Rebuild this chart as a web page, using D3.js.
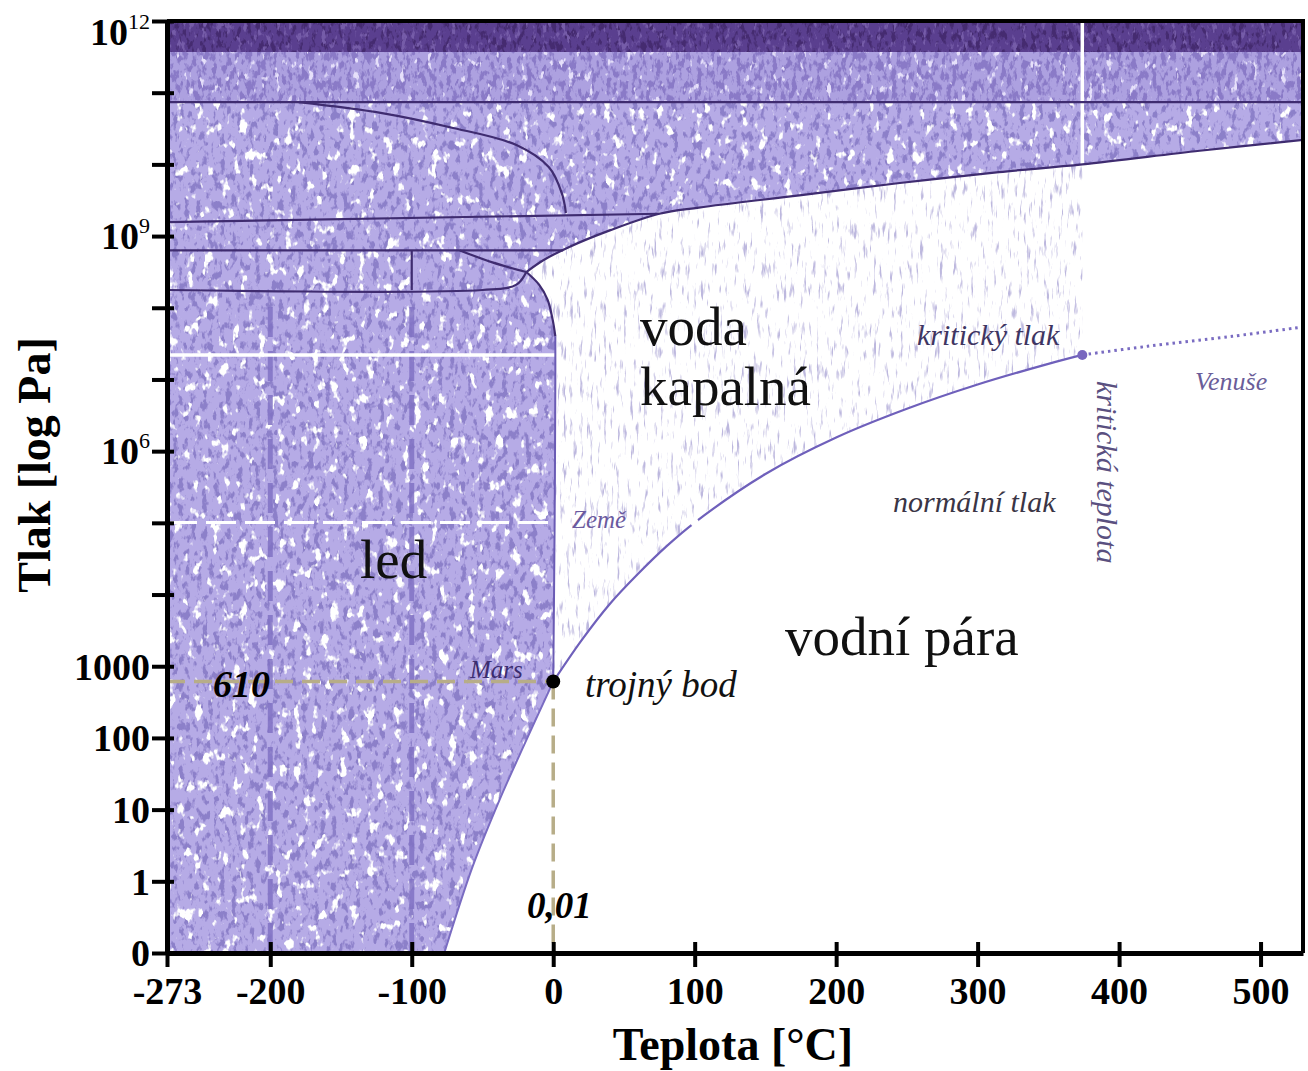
<!DOCTYPE html>
<html>
<head>
<meta charset="utf-8">
<script src="https://cdn.jsdelivr.net/npm/d3@7"></script>
<style>
body { margin: 0; background: #fff; }
svg text { font-family: "Liberation Serif", "Times New Roman", serif; }
</style>
</head>
<body>
<div class="chart"></div>
<script>
var margin = { top: 21, right: 5, bottom: 118, left: 167 };
var width = 1308 - margin.left - margin.right;
var height = 1071 - margin.top - margin.bottom;

// axis ticks
var xTicks = [-273, -200, -100, 0, 100, 200, 300, 400, 500];
var yTicks = [0.1, 1, 10, 100, 1000, 1e4, 1e5, 1e6, 1e7, 1e8, 1e9, 1e10, 1e11, 1e12];
var yLabels = ['0', '1', '10', '100', '1000', '', '', '10^6', '', '', '10^9', '', '', '10^12'];

// phase boundaries (T in °C, P in Pa)
var sublT = [-77, -57, -38, -19, 0.01];
var sublP = [0.1, 1.6, 13.6, 93, 611];
var vapT = [0.01, 20, 40, 60, 80, 100, 150, 200, 250, 300, 350, 374];
var vapP = [611, 2300, 7400, 19500, 47000, 101000, 480000, 1.55e6, 3.9e6, 8.5e6, 1.65e7, 2.2e7];
var meltT = [0.01, 1, 1.5, 1.5, -0.5, -4, -10, -19];
var meltP = [611, 1e5, 1e7, 4e7, 7e7, 1.3e8, 2.1e8, 3.15e8];
var topT = [-19, -7, 11, 40, 75, 103, 174, 245, 315, 374, 457, 530];
var topP = [3.15e8, 4.6e8, 7e8, 1.2e9, 2.05e9, 2.5e9, 3.7e9, 5.5e9, 7.8e9, 1.0e10, 1.55e10, 2.2e10];
var venusT = [374, 420, 480, 530];
var venusP = [2.2e7, 2.9e7, 4.0e7, 5.4e7];

// lines between the ice phases
var iceLines = [
	{ T: [-273, 75], P: [1.57e9, 2.05e9] },
	{ T: [-180, -121, -73, -26, -3, 6, 9], P: [7.4e10, 5.2e10, 3.3e10, 1.86e10, 9.1e9, 4.0e9, 2.1e9] },
	{ T: [-273, 7], P: [6.3e8, 6.3e8] },
	{ T: [-66, -43, -19], P: [6.3e8, 4.3e8, 3.15e8] },
	{ T: [-273, -50, -26, -19], P: [1.77e8, 1.77e8, 2.1e8, 3.15e8] },
	{ T: [-100, -100], P: [1.77e8, 6.3e8] },
	{ T: [-273, 530], P: [7.4e10, 7.4e10] }
];
var bandP = [7.4e10, 3.7e11, 1e12];

var triple = { T: 0.01, P: 611 };
var critical = { T: 374, P: 2.2e7 };
var earthP = 101325;
var gridT = [-200, -100];

var x = d3.scaleLinear().domain([-273, 530]).range([0, width]);
var y = d3.scaleLog().domain([0.1, 1e12]).range([height, 0]);

var root = d3.select('.chart')
	.append('svg')
		.attr('width', width + margin.left + margin.right)
		.attr('height', height + margin.top + margin.bottom);
var svg = root.append('g')
		.attr('transform', `translate(${margin.left}, ${margin.top})`);

var defs = root.append('defs');

function noise(id, freq, seed, oct, rgb, ch, a, b) {
	var row = [0, 0, 0, 0];
	row[ch] = a;
	var f = defs.append('filter').attr('id', id)
		.attr('x', 0).attr('y', 0).attr('width', 1).attr('height', 1)
		.attr('color-interpolation-filters', 'sRGB');
	f.append('feTurbulence').attr('type', 'fractalNoise')
		.attr('baseFrequency', freq).attr('numOctaves', oct).attr('seed', seed);
	f.append('feColorMatrix').attr('type', 'matrix')
		.attr('values', `0 0 0 0 ${rgb[0]} 0 0 0 0 ${rgb[1]} 0 0 0 0 ${rgb[2]} ${row.join(' ')} ${b}`);
}
noise('iceDark', '0.17 0.1', 4, 3, [0.55, 0.5, 0.79], 0, 7, -3.7);
noise('iceWhite', '0.11 0.07', 9, 3, [1, 1, 1], 1, -10, 3.8);
noise('bandDark', '0.2 0.1', 2, 3, [0.54, 0.48, 0.78], 0, 7, -3.35);
noise('bandWhite', '0.15 0.08', 5, 3, [0.9, 0.88, 0.98], 1, -10, 3.4);
noise('xDark', '0.2 0.1', 7, 3, [0.27, 0.17, 0.44], 0, 7, -3.6);
noise('xLight', '0.2 0.1', 8, 3, [0.46, 0.36, 0.66], 1, -8, 3.3);
noise('liqSpeck', '0.3 0.05', 11, 3, [0.74, 0.72, 0.87], 0, 5, -3.0);

var smooth = d3.line().curve(d3.curveCatmullRom.alpha(0.5));
function pts(T, P) { return T.map((t, i) => [x(t), y(P[i])]); }
function cont(T, P) { return smooth(pts(T, P)).replace(/^M/, 'L'); }
function rev(a) { return a.slice().reverse(); }

var icePath = `M${x(-273)},${y(0.1)}` + cont(sublT, sublP) + cont(meltT, meltP) + cont(topT, topP)
	+ `L${x(530)},${y(bandP[0])}L${x(-273)},${y(bandP[0])}Z`;
var liqPath = smooth(pts(meltT, meltP)) + cont(topT.slice(0, 10), topP.slice(0, 10))
	+ `L${x(critical.T)},${y(critical.P)}` + cont(rev(vapT), rev(vapP)) + 'Z';
var bandPath = `M0,${y(bandP[0])}H${width}V${y(bandP[1])}H0Z`;
var xPath = `M0,${y(bandP[1])}H${width}V${y(bandP[2])}H0Z`;

function region(id, d, base, layers) {
	defs.append('clipPath').attr('id', id).append('path').attr('d', d);
	if (base) svg.append('path').attr('d', d).attr('fill', base);
	layers.forEach(function(f) {
		svg.append('rect').attr('width', width).attr('height', height)
			.attr('filter', `url(#${f})`).attr('clip-path', `url(#${id})`);
	});
}
region('cLiq', liqPath, null, ['liqSpeck']);
region('cIce', icePath, '#b6abe6', ['iceDark', 'iceWhite']);
region('cBand', bandPath, '#ada1e0', ['bandDark', 'bandWhite']);
region('cX', xPath, '#5a3f8f', ['xDark', 'xLight']);

// dashed grid inside the ice
svg.selectAll('.grid')
	.data(gridT)
	.enter()
	.append('line')
		.attr('x1', d => x(d)).attr('x2', d => x(d))
		.attr('y1', y(0.1)).attr('y2', y(1.1e8))
		.attr('stroke', '#8172c4').attr('stroke-width', 5)
		.attr('stroke-dasharray', '30,14').attr('opacity', 0.85);

// white marks
svg.append('line')
	.attr('x1', x(critical.T)).attr('x2', x(critical.T))
	.attr('y1', 0).attr('y2', y(topP[9]))
	.attr('stroke', '#fff').attr('stroke-width', 3.5);
svg.append('line')
	.attr('x1', 0).attr('x2', x(1.5))
	.attr('y1', y(critical.P)).attr('y2', y(critical.P))
	.attr('stroke', '#fff').attr('stroke-width', 3.5);
svg.append('line')
	.attr('x1', 0).attr('x2', x(1))
	.attr('y1', y(earthP)).attr('y2', y(earthP))
	.attr('stroke', '#fff').attr('stroke-width', 3)
	.attr('stroke-dasharray', '30,9');

// ice phase lines
svg.selectAll('.iceline')
	.data(iceLines)
	.enter()
	.append('path')
		.attr('d', d => smooth(pts(d.T, d.P)))
		.attr('fill', 'none').attr('stroke', '#3f2c70').attr('stroke-width', 2.2);
svg.append('path')
	.attr('d', smooth(pts(meltT.slice(3), meltP.slice(3))) + cont(topT, topP))
	.attr('fill', 'none').attr('stroke', '#3f2c70').attr('stroke-width', 2.2);
svg.append('path')
	.attr('d', smooth(pts(meltT.slice(0, 4), meltP.slice(0, 4))))
	.attr('fill', 'none').attr('stroke', '#6a5bb4').attr('stroke-width', 2);

// sublimation and boiling curves
svg.append('path')
	.attr('d', smooth(pts(sublT, sublP)))
	.attr('fill', 'none').attr('stroke', '#7a6cc2').attr('stroke-width', 2);
svg.append('path')
	.attr('d', smooth(pts(vapT, vapP)))
	.attr('fill', 'none').attr('stroke', '#6f60bb').attr('stroke-width', 2.2);
svg.append('circle')
	.attr('cx', x(100)).attr('cy', y(earthP)).attr('r', 4).attr('fill', '#fff');
svg.append('path')
	.attr('d', smooth(pts(venusT, venusP)))
	.attr('fill', 'none').attr('stroke', '#7a6cc2').attr('stroke-width', 3)
	.attr('stroke-dasharray', '2.5,4');

// triple point guides
svg.append('line')
	.attr('x1', 0).attr('x2', x(triple.T))
	.attr('y1', y(triple.P)).attr('y2', y(triple.P))
	.attr('stroke', '#b7ad88').attr('stroke-width', 3.5).attr('stroke-dasharray', '18,9');
svg.append('line')
	.attr('x1', x(triple.T)).attr('x2', x(triple.T))
	.attr('y1', y(triple.P)).attr('y2', y(0.1))
	.attr('stroke', '#b7ad88').attr('stroke-width', 3.5).attr('stroke-dasharray', '18,9');
svg.append('circle')
	.attr('cx', x(triple.T)).attr('cy', y(triple.P)).attr('r', 7).attr('fill', '#000');
svg.append('circle')
	.attr('cx', x(critical.T)).attr('cy', y(critical.P)).attr('r', 5).attr('fill', '#7866bf');

// frame
svg.append('path')
	.attr('d', `M0,0H${width}V${height}`)
	.attr('fill', 'none').attr('stroke', '#000').attr('stroke-width', 4);

// axes
var xAxis = d3.axisBottom(x)
	.tickValues(xTicks)
	.tickSize(14)
	.tickSizeOuter(0)
	.tickPadding(10)
	.tickFormat(d => String(d));
var gx = svg.append('g')
	.attr('transform', `translate(0, ${height})`)
	.call(xAxis);
gx.select('.domain').attr('stroke-width', 5);
gx.selectAll('.tick line').attr('y1', -11).attr('stroke-width', 4);
gx.selectAll('.tick text')
	.attr('font-size', 38).attr('font-weight', 'bold').attr('fill', '#000')
	.style('font-family', '"Liberation Serif", serif');

var yAxis = d3.axisLeft(y)
	.tickValues(yTicks)
	.tickSize(15)
	.tickSizeOuter(0)
	.tickFormat('');
var gy = svg.append('g').call(yAxis);
gy.select('.domain').attr('stroke-width', 5);
gy.selectAll('.tick line').attr('x1', 7).attr('stroke-width', 4);

yTicks.forEach(function(v, i) {
	var lab = yLabels[i];
	if (!lab) return;
	var t = svg.append('text')
		.attr('x', -17).attr('y', y(v) + (v === 1e12 ? 11 : 0))
		.attr('dy', '0.35em').attr('text-anchor', 'end')
		.attr('font-size', 38).attr('font-weight', 'bold');
	if (lab.indexOf('^') > 0) {
		var p = lab.split('^');
		t.append('tspan').text(p[0]);
		t.append('tspan').attr('font-size', 22).attr('font-weight', 'normal')
			.attr('dy', -16).text(p[1]);
	} else {
		t.text(lab);
	}
});

// axis titles
root.append('text')
	.attr('transform', 'translate(50, 465) rotate(-90)')
	.attr('text-anchor', 'middle').attr('font-size', 46).attr('font-weight', 'bold')
	.text('Tlak [log Pa]');
root.append('text')
	.attr('x', 733).attr('y', 1060)
	.attr('text-anchor', 'middle').attr('font-size', 46).attr('font-weight', 'bold')
	.text('Teplota [°C]');

// region names and notes
var notes = [
	['voda', 640, 345, 55, 'normal', 'normal', '#111'],
	['kapalná', 640, 405, 55, 'normal', 'normal', '#111'],
	['led', 360, 578, 55, 'normal', 'normal', '#111'],
	['vodní pára', 785, 655, 55, 'normal', 'normal', '#111'],
	['trojný bod', 585, 697, 37, 'italic', 'normal', '#111'],
	['Mars', 470, 678, 25, 'italic', 'normal', '#3b2d70'],
	['610', 213, 697, 38, 'italic', 'bold', '#000'],
	['0,01', 527, 918, 37, 'italic', 'bold', '#000'],
	['Země', 572, 528, 25, 'italic', 'normal', '#6a5aa0'],
	['kritický tlak', 917, 345, 30, 'italic', 'normal', '#3e3562'],
	['normální tlak', 893, 512, 30, 'italic', 'normal', '#3a3545'],
	['Venuše', 1195, 390, 26, 'italic', 'normal', '#6a5d99']
];
root.selectAll('.note')
	.data(notes)
	.enter()
	.append('text')
		.attr('x', d => d[1]).attr('y', d => d[2])
		.attr('font-size', d => d[3]).attr('font-style', d => d[4])
		.attr('font-weight', d => d[5]).attr('fill', d => d[6])
		.text(d => d[0]);
root.append('text')
	.attr('transform', 'translate(1097, 381) rotate(90)')
	.attr('font-size', 30).attr('font-style', 'italic').attr('fill', '#5a5080')
	.text('kritická teplota');
</script>
</body>
</html>
